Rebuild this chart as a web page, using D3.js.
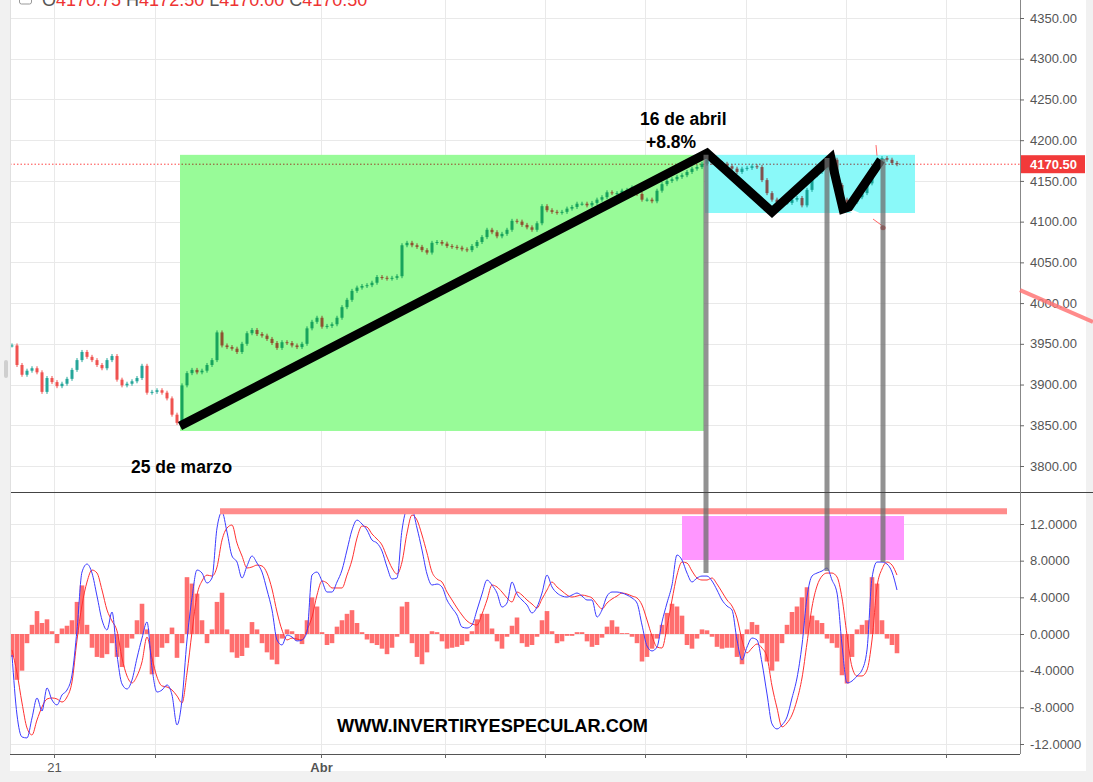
<!DOCTYPE html>
<html>
<head>
<meta charset="utf-8">
<script src="https://cdn.jsdelivr.net/npm/d3@7"></script>
<style>
  body { margin: 0; background: #fff; }
  svg { display: block; font-family: "Liberation Sans", Arial, sans-serif; }
</style>
</head>
<body>
<svg id="chart" width="1093" height="782"></svg>
<script>
// closes of each candle (open = previous close)
const closes = [
  3948, 3924, 3912, 3917, 3920, 3915, 3891, 3908, 3903, 3898,
  3901, 3907, 3918, 3930, 3940, 3934, 3930, 3924, 3920, 3930,
  3935, 3906, 3899, 3901, 3904, 3908, 3923, 3890, 3891, 3893,
  3890, 3883, 3863, 3853, 3899, 3914, 3918, 3915, 3917, 3924,
  3930, 3964, 3948, 3946, 3944, 3940, 3950, 3963, 3967, 3962,
  3960, 3956, 3951, 3945, 3952, 3951, 3948, 3946, 3950, 3969,
  3977, 3982, 3971, 3972, 3974, 3982, 3995, 4004, 4015, 4019,
  4021, 4022, 4025, 4032, 4031, 4030, 4031, 4033, 4071, 4074,
  4071, 4069, 4065, 4062, 4074, 4075, 4073, 4070, 4069, 4068,
  4066, 4065, 4070, 4075, 4081, 4090, 4087, 4082, 4085, 4090,
  4101, 4100, 4096, 4093, 4090, 4098, 4119, 4114, 4112, 4111,
  4112, 4116, 4118, 4122, 4122, 4120, 4123, 4127, 4130, 4136,
  4135, 4135, 4138, 4139, 4142, 4134, 4127, 4127, 4125, 4138,
  4146, 4150, 4152, 4155, 4157, 4161, 4165, 4167, 4171, 4176,
  4172, 4172, 4171, 4168, 4165, 4161, 4165, 4166, 4168, 4167,
  4151, 4135, 4127, 4124, 4123, 4123, 4127, 4129, 4120, 4139,
  4157, 4161, 4166, 4173, 4176, 4145, 4127, 4123, 4124, 4130,
  4135, 4147, 4163, 4176, 4178, 4176, 4172, 4170.5
];

const macdLine = [
  -2.29, -8.83, -11.23, -11.34, -9.16, -6.98, -8.40, -5.89, -7.20, -7.74,
  -6.65, -6.11, -4.47, 0.44, 6.76, 7.63, 6.65, 4.14, 1.53, 0.44,
  2.40, -2.29, -5.45, -6.00, -5.02, -2.62, -0.44, 1.31, -3.71, -6.33,
  -6.11, -5.56, -6.65, -9.92, -7.20, -0.65, 3.93, 6.98, 6.65, 5.56,
  6.11, 11.56, 13.30, 11.12, 8.51, 7.85, 6.11, 7.42, 8.51, 7.74,
  6.76, 4.80, 2.62, -0.65, -1.20, -0.11, -0.33, -0.76, -0.65, 0.22,
  6.43, 6.76, 5.78, 4.58, 4.58, 5.67, 6.98, 9.16, 11.34, 12.43,
  12.00, 11.34, 10.25, 9.92, 9.05, 7.31, 6.00, 6.11, 11.34, 13.52,
  13.52, 11.56, 9.16, 6.54, 5.34, 5.45, 5.13, 3.71, 2.84, 2.07,
  0.76, 0.65, 0.98, 2.62, 4.36, 5.89, 5.34, 4.47, 2.94, 3.38,
  5.67, 4.36, 3.71, 3.16, 2.29, 2.94, 4.47, 6.43, 5.13, 4.47,
  4.14, 4.03, 4.25, 4.47, 4.14, 3.71, 3.71, 1.85, 2.62, 4.14,
  4.58, 4.58, 4.47, 4.25, 3.93, 3.38, 0.98, -1.31, -1.85, -1.42,
  1.31, 3.38, 5.34, 8.62, 8.07, 6.65, 5.67, 6.11, 6.32, 6.32,
  5.78, 4.80, 3.71, 3.05, 2.62, -0.65, -2.84, -1.42, -0.44, -0.65,
  -3.16, -6.54, -9.81, -10.36, -9.92, -9.05, -6.98, -4.80, -1.20, 4.03,
  6.32, 6.65, 6.87, 7.20, 5.89, 4.47, -1.20, -5.34, -5.13, -4.58,
  -3.93, -1.74, 6.11, 7.85, 7.85, 7.63, 6.76, 4.80
];

const signalLine = [
  -1.74, -4.25, -7.52, -10.25, -11.01, -9.38, -7.96, -7.09, -6.98, -7.09,
  -7.42, -6.87, -5.23, -0.65, 3.16, 5.67, 6.98, 6.65, 4.80, 2.62,
  1.42, 0.33, -2.62, -4.58, -5.34, -4.58, -3.05, -0.33, -2.62, -4.69,
  -5.67, -5.78, -6.11, -6.76, -7.52, -4.25, 0.22, 4.25, 5.78, 6.43,
  6.32, 7.31, 10.25, 11.56, 11.89, 9.92, 8.51, 7.20, 7.31, 7.52,
  7.42, 6.65, 4.91, 2.40, 0.44, -0.65, -0.44, -0.55, -0.65, 0.44,
  1.85, 4.25, 5.78, 5.56, 5.02, 5.02, 5.02, 6.43, 8.07, 10.47,
  11.78, 11.67, 10.91, 10.36, 9.71, 8.40, 7.20, 6.54, 7.85, 11.01,
  12.98, 12.43, 10.80, 8.83, 6.76, 6.00, 5.67, 4.58, 3.71, 2.84,
  2.07, 1.42, 1.09, 0.98, 2.18, 3.71, 5.34, 5.13, 4.58, 3.93,
  3.49, 4.58, 4.25, 3.71, 3.27, 2.84, 3.82, 4.80, 5.67, 5.13,
  4.69, 4.25, 4.03, 4.14, 4.25, 4.14, 3.93, 3.27, 2.73, 3.38,
  3.82, 4.14, 4.47, 4.36, 4.14, 3.93, 3.16, 1.53, -0.22, -1.42,
  -1.53, 0.76, 3.71, 6.43, 7.85, 7.74, 6.87, 6.11, 5.89, 5.89,
  6.11, 5.45, 4.58, 3.71, 3.05, 1.74, -0.65, -2.07, -1.53, -1.09,
  -1.53, -2.51, -5.67, -8.07, -10.14, -9.71, -8.83, -7.20, -4.80, -0.98,
  2.94, 5.23, 6.32, 6.65, 6.65, 6.22, 3.93, -0.11, -3.60, -4.58,
  -4.58, -3.93, -0.65, 5.13, 7.09, 7.85, 7.52, 6.43
];

const histogram = [
  -2.5, -5.0, -4.0, -1.0, 1.0, 2.5, 1.2, 1.6, 0.3, -1.0,
  0.6, 0.9, 1.5, 3.5, 5.3, 1.0, -1.5, -2.5, -2.6, -2.2,
  -1.0, -2.5, -3.6, -1.5, -0.5, 1.5, 3.3, 0.5, -4.4, -2.5,
  -1.5, -1.0, 0.7, -2.6, -1.0, 6.2, 5.5, 4.4, 1.5, -1.0,
  0.5, 3.5, 4.5, 0.5, -2.0, -2.6, -2.4, -1.5, 1.3, 0.5,
  -1.0, -2.0, -2.8, -3.3, -0.5, 0.5, 0.3, -0.7, -1.1, 1.5,
  4.0, 3.0, 0.2, -1.2, -1.0, 0.8, 1.5, 2.2, 2.6, 1.2,
  0.2, -0.6, -1.0, -1.2, -1.6, -2.2, -1.5, -0.3, 3.0, 3.5,
  -1.0, -2.5, -3.3, -2.0, 0.3, 0.2, -0.8, -1.6, -1.5, -1.4,
  -1.2, -0.8, 0.3, 1.6, 2.2, 2.2, 0.6, -0.8, -1.6, -0.3,
  0.9, 1.8, -1.0, -1.4, -1.2, -0.3, 1.5, 2.5, 0.3, -1.0,
  -0.8, -0.2, -0.2, 0.2, 0.2, -0.8, -1.4, -1.2, -0.4, 0.8,
  1.5, 0.8, 0.1, 0.1, -0.3, -1.0, -3.0, -2.5, -1.6, -0.5,
  1.0, 2.3, 3.3, 3.0, 2.0, -1.2, -1.6, -0.5, 0.5, 0.4,
  -0.3, -1.4, -1.6, -1.5, -1.5, -2.5, -3.3, 0.5, 1.3, 1.0,
  -1.0, -3.0, -4.0, -3.0, -1.0, 1.0, 2.4, 3.0, 4.0, 5.1,
  2.0, 1.5, 1.2, -0.5, -1.0, -1.5, -4.5, -5.4, -2.5, 0.5,
  1.0, 1.5, 6.2, 5.5, 1.5, -0.5, -1.2, -2.1
];

const priceTicks = [3800, 3850, 3900, 3950, 4000, 4050, 4100, 4150, 4200, 4250, 4300, 4350];
const macdTicks = [-12, -8, -4, 0, 4, 8, 12];
const timeTicks = [8.4, 28.6, 61.8, 86.6, 106.6, 126.6, 146.8, 166.8, 186.8];
const timeLabels = ["21", "", "Abr", "", "", "", "", "", ""];
const lastPrice = 4170.5;
const header = [["O", "4170.75"], ["H", "4172.50"], ["L", "4170.00"], ["C", "4170.50"]];

// hand-drawn annotations, in bar index / price / macd units
const rallyBox = [33.6, 138.4, 3843, 4182];
const rangeBox = [138.6, 180.6, 4110.6, 4182];
const trendPath = [[33.6, 3849], [139, 4184], [152, 4112], [163.8, 4178], [166.2, 4115.5], [167.4, 4118], [173.8, 4175.7]];
const markerBars = [[138.8, 4182, 6.65], [163, 4178, 6.87], [174.2, 4177, 7.85]];
const macdTopLine = [41.6, 199, 13.4];
const macdBox = [134, 178.4, 8.07, 12.87];
const outerLine = [[201.6, 4016], [216.2, 3977]];

const svg = d3.select("#chart");
const W = 1093, H = 782;
const left = 10, axisX = 1020, sepY = 492, bottomY = 754;

const x = d3.scaleLinear().domain([0, 177]).range([12, 897]);
const yP = d3.scaleLinear().domain([3800, 4350]).range([466, 18]);
const yM = d3.scaleLinear().domain([-12, 12]).range([744, 524]);

// frame strips
svg.append("rect").attr("width", W).attr("height", H).attr("fill", "#fff");
svg.append("rect").attr("x", 0).attr("y", 0).attr("width", left).attr("height", H).attr("fill", "#f1f1f1");
svg.append("rect").attr("x", 1086).attr("y", 0).attr("width", 7).attr("height", H).attr("fill", "#f1f1f1");
svg.append("rect").attr("x", 0).attr("y", 771).attr("width", W).attr("height", 11).attr("fill", "#f1f1f1");
svg.append("rect").attr("x", 4).attr("y", 360).attr("width", 4).attr("height", 18).attr("rx", 2).attr("fill", "#cfcfcf");

const defs = svg.append("defs");
defs.append("clipPath").attr("id", "clipP").append("rect")
  .attr("x", left).attr("y", 0).attr("width", axisX - left).attr("height", sepY);
defs.append("clipPath").attr("id", "clipM").append("rect")
  .attr("x", left).attr("y", sepY).attr("width", axisX - left).attr("height", bottomY - sepY);

// grid
const grid = svg.append("g").attr("stroke", "#e9e9e9").attr("stroke-width", 1);
priceTicks.forEach(t => grid.append("line").attr("x1", left).attr("x2", axisX)
  .attr("y1", Math.round(yP(t)) + 0.5).attr("y2", Math.round(yP(t)) + 0.5));
macdTicks.forEach(t => grid.append("line").attr("x1", left).attr("x2", axisX)
  .attr("y1", Math.round(yM(t)) + 0.5).attr("y2", Math.round(yM(t)) + 0.5));
timeTicks.forEach(t => grid.append("line").attr("x1", Math.round(x(t)) + 0.5).attr("x2", Math.round(x(t)) + 0.5)
  .attr("y1", 0).attr("y2", bottomY));

// header (cut at the top edge, as in the source screenshot)
const head = svg.append("text").attr("x", 42).attr("y", 6).attr("font-size", 18);
header.forEach(([k, v], i) => {
  head.append("tspan").attr("fill", "#555").text((i ? " " : "") + k);
  head.append("tspan").attr("fill", "#e33").text(v);
});
svg.append("rect").attr("x", 19.5).attr("y", -6).attr("width", 12).attr("height", 10).attr("rx", 2)
  .attr("fill", "none").attr("stroke", "#999");

// ---- price panel
const pp = svg.append("g").attr("clip-path", "url(#clipP)");

pp.append("line").attr("x1", left).attr("x2", axisX)
  .attr("y1", yP(lastPrice)).attr("y2", yP(lastPrice))
  .attr("stroke", "#f44").attr("stroke-dasharray", "1.5,2");

const candles = closes.map((c, i) => ({ i, o: i ? closes[i - 1] : c, c }));
const cg = pp.append("g");
cg.selectAll("line").data(candles).enter().append("line")
  .attr("x1", d => x(d.i)).attr("x2", d => x(d.i))
  .attr("y1", d => yP(Math.max(d.o, d.c)) - 2)
  .attr("y2", d => yP(Math.min(d.o, d.c)) + 2)
  .attr("stroke", d => d.c >= d.o ? "#26a69a" : "#ef5350");
cg.selectAll("rect").data(candles).enter().append("rect")
  .attr("x", d => x(d.i) - 1.5).attr("width", 3)
  .attr("y", d => yP(Math.max(d.o, d.c)))
  .attr("height", d => Math.max(1, Math.abs(yP(d.o) - yP(d.c))))
  .attr("fill", d => d.c >= d.o ? "#26a69a" : "#ef5350");

pp.append("rect")
  .attr("x", x(rallyBox[0])).attr("width", x(rallyBox[1]) - x(rallyBox[0]))
  .attr("y", yP(rallyBox[3])).attr("height", yP(rallyBox[2]) - yP(rallyBox[3]))
  .attr("fill", "#98fb98").style("mix-blend-mode", "multiply");
pp.append("rect")
  .attr("x", x(rangeBox[0])).attr("width", x(rangeBox[1]) - x(rangeBox[0]))
  .attr("y", yP(rangeBox[3])).attr("height", yP(rangeBox[2]) - yP(rangeBox[3]))
  .attr("fill", "#8af9f9").style("mix-blend-mode", "multiply");

pp.append("line")
  .attr("x1", x(166.6)).attr("y1", yP(4116.7)).attr("x2", x(171)).attr("y2", yP(4104.5))
  .attr("stroke", "#fff").attr("stroke-width", 3);
pp.append("line")
  .attr("x1", x(172.2)).attr("y1", yP(4103.2)).attr("x2", x(174.4)).attr("y2", yP(4093.4))
  .attr("stroke", "#f66").attr("stroke-width", 1);
pp.append("line")
  .attr("x1", x(172.8)).attr("y1", yP(4194)).attr("x2", x(173)).attr("y2", yP(4181))
  .attr("stroke", "#f66").attr("stroke-width", 1);
pp.append("circle").attr("cx", x(174.2)).attr("cy", yP(4092.6)).attr("r", 2.5).attr("fill", "#c33");

pp.append("path")
  .attr("d", d3.line().x(d => x(d[0])).y(d => yP(d[1]))(trendPath))
  .attr("fill", "none").attr("stroke", "#000").attr("stroke-width", 9)
  .attr("stroke-linejoin", "miter");

// ---- macd panel
const mp = svg.append("g").attr("clip-path", "url(#clipM)");

mp.append("g").selectAll("rect").data(histogram).enter().append("rect")
  .attr("x", (d, i) => x(i) - 2.3).attr("width", 4.6)
  .attr("y", d => d >= 0 ? yM(d) : yM(0))
  .attr("height", d => Math.abs(yM(d) - yM(0)))
  .attr("fill", "#ff5a5a").attr("opacity", 0.88);

mp.append("path")
  .attr("d", d3.line().x((d, i) => x(i)).y(d => yM(d)).curve(d3.curveMonotoneX)(signalLine))
  .attr("fill", "none").attr("stroke", "#ff3030").attr("stroke-width", 1);
mp.append("path")
  .attr("d", d3.line().x((d, i) => x(i)).y(d => yM(d)).curve(d3.curveMonotoneX)(macdLine))
  .attr("fill", "none").attr("stroke", "#3a3aff").attr("stroke-width", 1);

mp.append("rect")
  .attr("x", x(macdBox[0])).attr("width", x(macdBox[1]) - x(macdBox[0]))
  .attr("y", yM(macdBox[3])).attr("height", yM(macdBox[2]) - yM(macdBox[3]))
  .attr("fill", "#ff96ff").style("mix-blend-mode", "multiply");
svg.append("line")
  .attr("x1", x(macdTopLine[0])).attr("x2", x(macdTopLine[1]))
  .attr("y1", yM(macdTopLine[2])).attr("y2", yM(macdTopLine[2]))
  .attr("stroke", "#ff8c8c").attr("stroke-width", 6);

// vertical markers through both panels
svg.append("g").selectAll("line").data(markerBars).enter().append("line")
  .attr("x1", d => x(d[0])).attr("x2", d => x(d[0]))
  .attr("y1", d => yP(d[1])).attr("y2", d => yM(d[2]))
  .attr("stroke", "#6e6e6e").attr("stroke-opacity", 0.75).attr("stroke-width", 5);

// ---- frame lines
svg.append("line").attr("x1", left).attr("x2", W).attr("y1", sepY + 0.5).attr("y2", sepY + 0.5)
  .attr("stroke", "#444");
svg.append("line").attr("x1", left).attr("x2", axisX).attr("y1", bottomY + 0.5).attr("y2", bottomY + 0.5)
  .attr("stroke", "#555");
svg.append("line").attr("x1", axisX + 0.5).attr("x2", axisX + 0.5).attr("y1", 0).attr("y2", bottomY)
  .attr("stroke", "#888");
svg.append("line").attr("x1", left + 0.5).attr("x2", left + 0.5).attr("y1", 0).attr("y2", bottomY)
  .attr("stroke", "#e0e0e0");

// ---- axes
function styleAxis(g) {
  g.select(".domain").remove();
  g.selectAll(".tick line").attr("stroke", "#666");
  g.selectAll(".tick text").attr("fill", "#555").attr("font-size", 13)
    .attr("font-family", "Liberation Sans, Arial, sans-serif");
}
svg.append("g").attr("transform", `translate(${axisX},0)`)
  .call(d3.axisRight(yP).tickValues(priceTicks).tickFormat(d => d.toFixed(2)).tickSize(4).tickPadding(6))
  .call(styleAxis);
svg.append("g").attr("transform", `translate(${axisX},0)`)
  .call(d3.axisRight(yM).tickValues(macdTicks).tickFormat(d => d.toFixed(4)).tickSize(4).tickPadding(6))
  .call(styleAxis);
const xa = svg.append("g").attr("transform", `translate(0,${bottomY})`)
  .call(d3.axisBottom(x).tickValues(timeTicks).tickFormat((d, i) => timeLabels[i]).tickSize(4).tickPadding(5))
  .call(styleAxis);
xa.selectAll(".tick text").attr("font-weight", (d, i) => timeLabels[i] === "Abr" ? "bold" : null);

// last price label
svg.append("rect").attr("x", axisX + 1).attr("y", yP(lastPrice) - 9).attr("width", 64).attr("height", 18)
  .attr("fill", "#f23a3a");
svg.append("text").attr("x", axisX + 10).attr("y", yP(lastPrice) + 5)
  .attr("fill", "#fff").attr("font-size", 13).attr("font-weight", "bold").text(lastPrice.toFixed(2));

// outer pink line
svg.append("line")
  .attr("x1", x(outerLine[0][0])).attr("y1", yP(outerLine[0][1]))
  .attr("x2", x(outerLine[1][0])).attr("y2", yP(outerLine[1][1]))
  .attr("stroke", "#f77").attr("stroke-opacity", 0.85).attr("stroke-width", 4);

// texts
const txt = svg.append("g").attr("font-weight", "bold").attr("fill", "#000");
txt.append("text").attr("x", 640).attr("y", 125).attr("font-size", 17.5).text("16 de abril");
txt.append("text").attr("x", 646).attr("y", 148).attr("font-size", 17.5).text("+8.8%");
txt.append("text").attr("x", 131).attr("y", 473).attr("font-size", 17.5).text("25 de marzo");
txt.append("text").attr("x", 337).attr("y", 732).attr("font-size", 18)
  .attr("textLength", 311).attr("lengthAdjust", "spacingAndGlyphs").text("WWW.INVERTIRYESPECULAR.COM");
</script>
</body>
</html>
